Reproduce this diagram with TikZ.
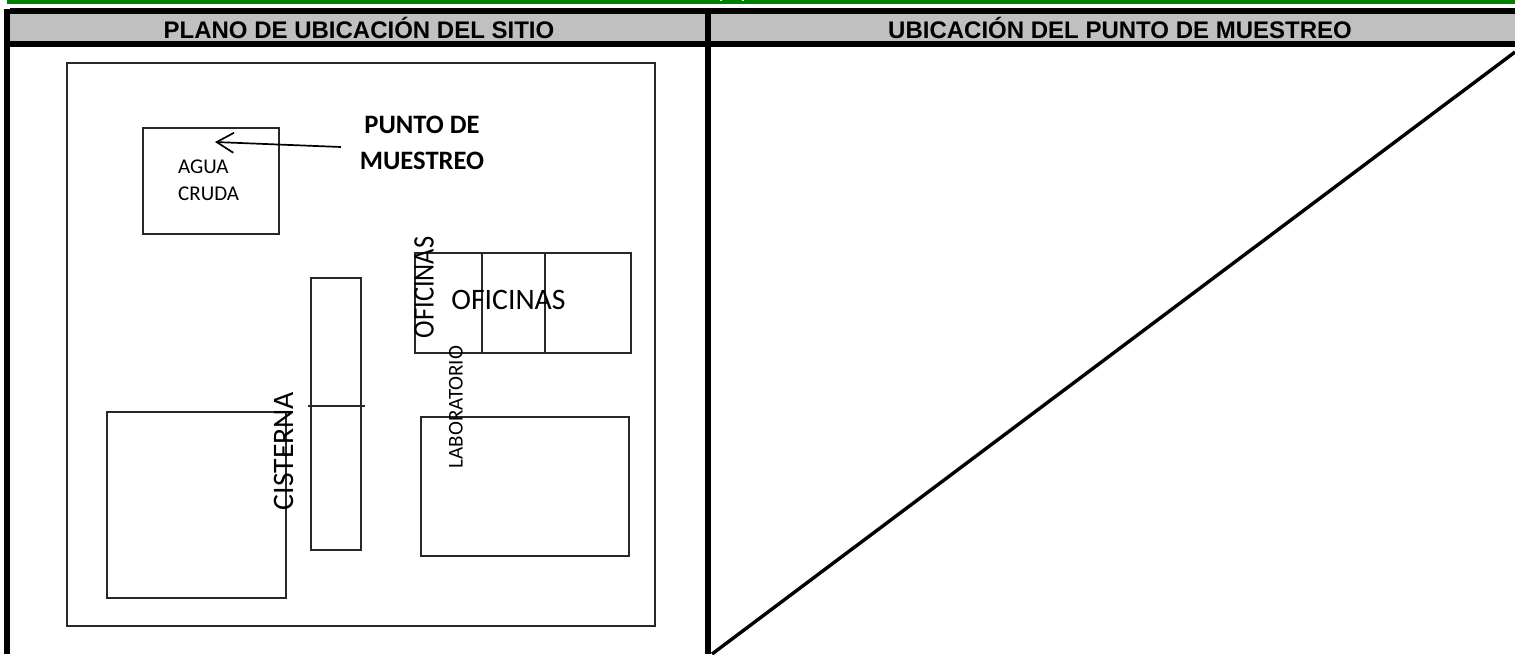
\documentclass[tikz,border=0pt]{standalone}
\usepackage{fontspec}
\setmainfont{Carlito}
\newfontfamily\headfont{Liberation Sans}
\usetikzlibrary{arrows.meta}
\definecolor{bargreen}{RGB}{0,128,0}
\definecolor{headgray}{RGB}{192,192,192}
\definecolor{planline}{RGB}{40,40,40}
\tikzset{
  x=1pt,y=-1pt,
  heavy/.style={fill=black,draw=none},
  plan/.style={draw=planline,line width=1.3pt,fill=none,inner sep=0pt,outer sep=0pt},
  headtext/.style={inner sep=0pt,font=\headfont\bfseries\fontsize{24}{26}\selectfont},
  small/.style={inner sep=0pt,align=left,font=\fontsize{21}{27}\selectfont},
  large/.style={inner sep=0pt,font=\fontsize{29.7}{32}\selectfont},
  callout/.style={inner sep=0pt,align=center,font=\bfseries\fontsize{26.6}{36}\selectfont},
}
\newcommand{\planbox}[5]{\node[plan,minimum width=#4-#2,minimum height=#5-#3,anchor=north west] (#1) at (#2,#3) {};}
\begin{document}
\begin{tikzpicture}
\useasboundingbox (0,0) rectangle (1515,654);
\fill[white] (0,0) rectangle (1515,654);
% top band
\fill[bargreen] (7,0) rectangle (1515,4);
\fill[white] (719.5,0) rectangle (721.5,1);
\fill[white] (741.5,0) rectangle (743.5,1);
% header
\fill[headgray] (10,14) rectangle (1515,41);
\fill[heavy] (10,8) rectangle (1515,14);
\fill[heavy] (10,41) rectangle (1515,47);
\fill[heavy] (4,9) rectangle (10,654);
\fill[heavy] (705,14) rectangle (711,654);
\node[headtext] (h1) at (359,28) {PLANO DE UBICACIÓN DEL SITIO};
\node[headtext] (h2) at (1120,28) {UBICACIÓN DEL PUNTO DE MUESTREO};
% diagonal
\coordinate (dA) at (712,654);
\coordinate (dB) at (1515,52);
\draw[black,line width=3.4pt] (dA) -- (dB);
% plan
\planbox{outer}{67}{63}{655}{626}
\planbox{agua}{143}{128}{279}{234}
\planbox{columna}{311}{278}{361}{550}
\planbox{ofi}{415}{253}{631}{353}
\planbox{lab}{421}{417}{629}{556}
\planbox{cist}{107}{412}{286}{598}
\coordinate (d1a) at (482,253); \coordinate (d1b) at (482,353);
\coordinate (d2a) at (545,253); \coordinate (d2b) at (545,353);
\coordinate (cutA) at (308,406); \coordinate (cutB) at (365,406);
\draw[plan] (d1a) -- (d1b);
\draw[plan] (d2a) -- (d2b);
\draw[plan] (cutA) -- (cutB);
% labels
\node[small,anchor=west] (aguat) at (178,180.5) {AGUA\\CRUDA};
\node[callout] (punto) at (422,143) {PUNTO DE\\MUESTREO};
\node[large] (ofih) at (508.5,300) {OFICINAS};
\node[large,rotate=90,xscale=0.89] (ofiv) at (424,287.5) {OFICINAS};
\node[small,rotate=90] (labt) at (456,407) {LABORATORIO};
\node[large,rotate=90] (cistt) at (284,451) {CISTERNA};
% pointer
\coordinate (tip) at (215,142);
\coordinate (tail) at (341,147);
\draw[black,line width=1.7pt,-{Straight Barb[length=17pt,width=20pt,line width=1.7pt]}] (tail) -- (tip);
\end{tikzpicture}
\end{document}
